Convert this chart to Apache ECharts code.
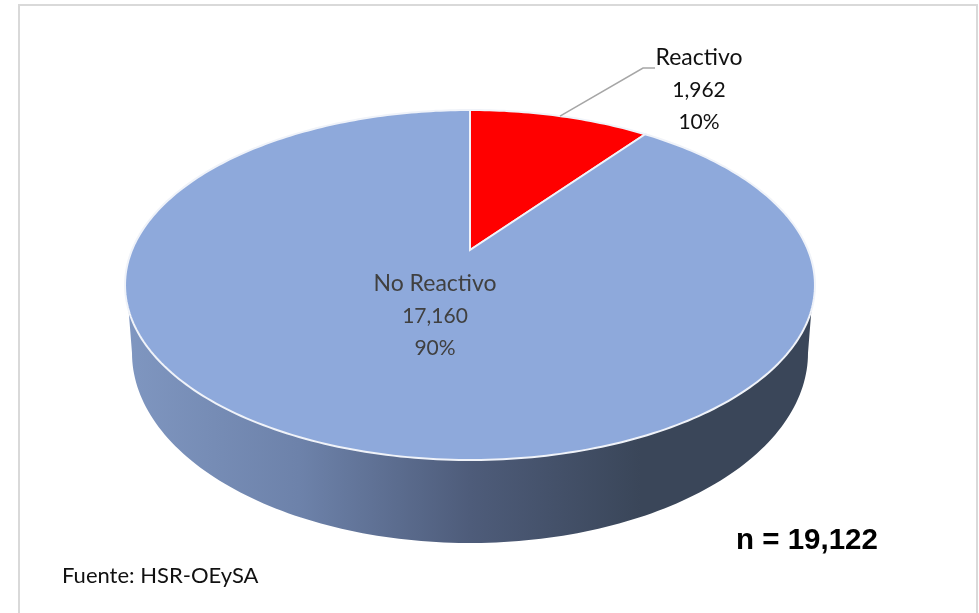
<!DOCTYPE html>
<html>
<head>
<meta charset="utf-8">
<script src="https://cdn.jsdelivr.net/npm/echarts@6/dist/echarts.min.js"></script>
<style>
html, body { margin: 0; padding: 0; background: #fff; }
#chart { width: 979px; height: 613px; }
</style>
</head>
<body>
<div id="chart"></div>
<script>
const categories = ['Reactivo', 'No Reactivo'];
const values = [1962, 17160];
const percentLabels = ['10%', '90%'];
const totalLabel = 'n = 19,122';
const sourceLabel = 'Fuente: HSR-OEySA';

const total = values.reduce((a, b) => a + b, 0);

// perspective of the pie top, angles run clockwise from 12 o'clock
const cx = 470, cy = 250, scaleX = 338, scaleY = 168, persp = 0.2;
// lower edge of the wall
const baseCy = 353, baseRx = 338, baseRy = 190;
const frontFrom = 109.5, frontTo = 250.5;

function rim(deg) {
    const a = deg * Math.PI / 180;
    const d = 1 + persp * Math.cos(a);
    return [cx + scaleX * Math.sin(a) / d, cy - scaleY * Math.cos(a) / d];
}

function base(deg) {
    // front rim angle -> half ellipse of the base
    const t = 90 + (deg - frontFrom) / (frontTo - frontFrom) * 180;
    const a = t * Math.PI / 180;
    return [cx + baseRx * Math.sin(a), baseCy - baseRy * Math.cos(a)];
}

function range(from, to) {
    const pts = [];
    const n = Math.max(2, Math.ceil(to - from));
    for (let i = 0; i <= n; i++) pts.push(from + (to - from) * i / n);
    return pts;
}

function renderSlice(params, api) {
    const i = params.dataIndex;
    const start = api.value(1) / total * 360;
    const end = start + api.value(0) / total * 360;
    const children = [];

    const wallFrom = Math.max(start, frontFrom);
    const wallTo = Math.min(end, frontTo);
    if (wallTo > wallFrom) {
        const angles = range(wallFrom, wallTo);
        children.push({
            type: 'polygon',
            shape: { points: angles.map(rim).concat(angles.slice().reverse().map(base)) },
            style: {
                fill: {
                    type: 'linear', x: 0, y: 0, x2: 1, y2: 0,
                    colorStops: [
                        { offset: 0, color: '#7f96c0' },
                        { offset: 0.25, color: '#6d82aa' },
                        { offset: 0.5, color: '#4e5c7a' },
                        { offset: 0.75, color: '#3a4659' },
                        { offset: 1, color: '#3a4659' }
                    ]
                }
            }
        });
    }

    children.push({
        type: 'polygon',
        shape: { points: [[cx, cy]].concat(range(start, end).map(rim)) },
        style: { fill: i === 0 ? '#ff0000' : '#8ea9db', stroke: '#f0f3f9', lineWidth: 2 }
    });
    return { type: 'group', children: children };
}

function renderLabel(params, api) {
    const i = params.dataIndex;
    const start = api.value(1) / total * 360;
    const mid = start + api.value(0) / total * 180;
    const children = [];
    let pos;
    if (i === 0) {
        const p = rim(mid);
        children.push({
            type: 'polyline',
            shape: { points: [p, [643, 68], [655, 68]] },
            style: { fill: 'none', stroke: '#a6a6a6', lineWidth: 1.5 }
        });
        pos = [699, 90];
    } else {
        pos = [435, 316];
    }
    // the name runs wider than the numbers in the reference
    const lines = [categories[i], values[i].toLocaleString('en-US'), percentLabels[i]];
    lines.forEach((line, k) => {
        children.push({
            type: 'text',
            x: pos[0],
            y: pos[1] + (k - 1) * 32,
            style: {
                text: line,
                fontFamily: 'Lato',
                fontSize: k === 0 ? 23 : 21,
                fill: i === 0 ? '#111111' : '#404040',
                align: 'center',
                verticalAlign: 'middle'
            }
        });
    });
    return { type: 'group', children: children };
}

// value, cumulative value before it
const sliceData = values.map((v, i) => [v, values.slice(0, i).reduce((a, b) => a + b, 0)]);

const chart = echarts.init(document.getElementById('chart'), null, { renderer: 'canvas' });
chart.setOption({
    animation: false,
    backgroundColor: '#ffffff',
    graphic: [
        {
            // bottom edge of the frame falls outside the picture
            type: 'rect',
            shape: { x: 19, y: 5, width: 958, height: 640 },
            style: { fill: 'none', stroke: '#d9d9d9', lineWidth: 2 }
        },
        {
            type: 'text',
            x: 736,
            y: 541,
            style: { text: totalLabel, fontFamily: 'Liberation Sans', fontWeight: 'bold', fontSize: 29.5, fill: '#000', verticalAlign: 'middle' }
        },
        {
            type: 'text',
            x: 62,
            y: 576,
            style: { text: sourceLabel, fontFamily: 'Lato', fontSize: 22, fill: '#111111', verticalAlign: 'middle' }
        }
    ],
    series: [
        { type: 'custom', coordinateSystem: 'none', renderItem: renderSlice, data: sliceData, z: 1 },
        { type: 'custom', coordinateSystem: 'none', renderItem: renderLabel, data: sliceData, z: 2 }
    ]
});
</script>
</body>
</html>
